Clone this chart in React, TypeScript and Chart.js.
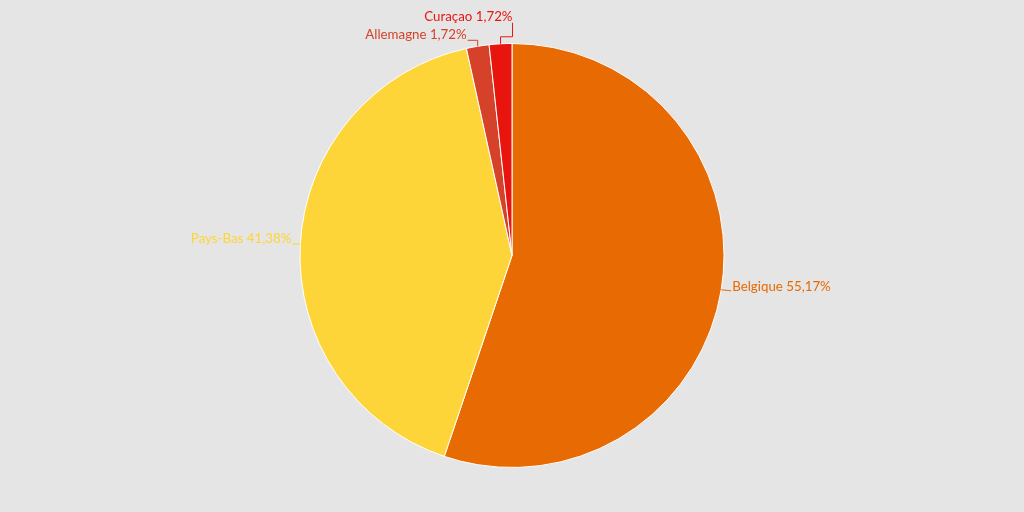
import React, { useEffect, useRef } from "react";
import { Chart, registerables } from "chart.js";

Chart.register(...registerables);

const categories = ["Belgique", "Pays-Bas", "Allemagne", "Curaçao"];
const counts = [32, 24, 1, 1];
const colors = ["#e86a02", "#fed538", "#d6412a", "#e8150f"];

const fmt = (v: number) => v.toFixed(2).replace(".", ",") + "%";

const labelPlugin = {
  id: "pieLabels",
  afterDatasetsDraw(chart: any) {
    const ctx = chart.ctx;
    const meta = chart.getDatasetMeta(0);
    const total = counts.reduce((a, b) => a + b, 0);
    ctx.save();
    ctx.font = "13.3px Lato";
    ctx.lineWidth = 1;
    meta.data.forEach((arc: any, i: number) => {
      const { x, y, startAngle, endAngle, outerRadius } = arc.getProps(
        ["x", "y", "startAngle", "endAngle", "outerRadius"],
        true
      );
      const mid = (startAngle + endAngle) / 2;
      const ex = x + Math.cos(mid) * outerRadius;
      const ey = y + Math.sin(mid) * outerRadius;
      const text = `${categories[i]} ${fmt((counts[i] / total) * 100)}`;
      ctx.strokeStyle = colors[i];
      ctx.fillStyle = colors[i];
      ctx.beginPath();
      ctx.moveTo(ex, ey);
      let tx = ex, ty = ey;
      if (i === 2) {
        ctx.lineTo(ex, ey - 6);
        ctx.lineTo(ex - 10, ey - 6);
        tx = ex - 11;
        ty = ey - 12;
        ctx.textAlign = "right";
      } else if (i === 3) {
        ctx.lineTo(ex, ey - 7);
        ctx.lineTo(ex + 12, ey - 7);
        ctx.lineTo(ex + 12, ey - 21);
        tx = ex + 12;
        ty = ey - 27;
        ctx.textAlign = "right";
      } else if (Math.cos(mid) >= 0) {
        ctx.lineTo(ex + 10, ey + 1);
        tx = ex + 11;
        ty = ey - 3;
        ctx.textAlign = "left";
      } else {
        ctx.lineTo(ex - 8, ey);
        tx = ex - 9;
        ty = ey - 5;
        ctx.textAlign = "right";
      }
      ctx.stroke();
      ctx.textBaseline = "middle";
      ctx.fillText(text, tx, ty);
    });
    ctx.restore();
  },
};

export default function App() {
  const ref = useRef<HTMLCanvasElement>(null);
  useEffect(() => {
    document.body.style.margin = "0";
    document.body.style.background = "#e5e5e5";
    const chart = new Chart(ref.current!, {
      type: "pie",
      data: {
        labels: categories,
        datasets: [
          {
            data: counts,
            backgroundColor: colors,
            borderColor: "#ffffff",
            borderWidth: 1,
          },
        ],
      },
      options: {
        animation: false,
        responsive: false,
        layout: { padding: { top: 43, bottom: 44 } },
        plugins: {
          legend: { display: false },
          tooltip: { enabled: false },
        },
      },
      plugins: [labelPlugin],
    });
    return () => chart.destroy();
  }, []);
  return (
    <div style={{ width: 1024, height: 512, background: "#e5e5e5" }}>
      <canvas ref={ref} width={1024} height={512} />
    </div>
  );
}
